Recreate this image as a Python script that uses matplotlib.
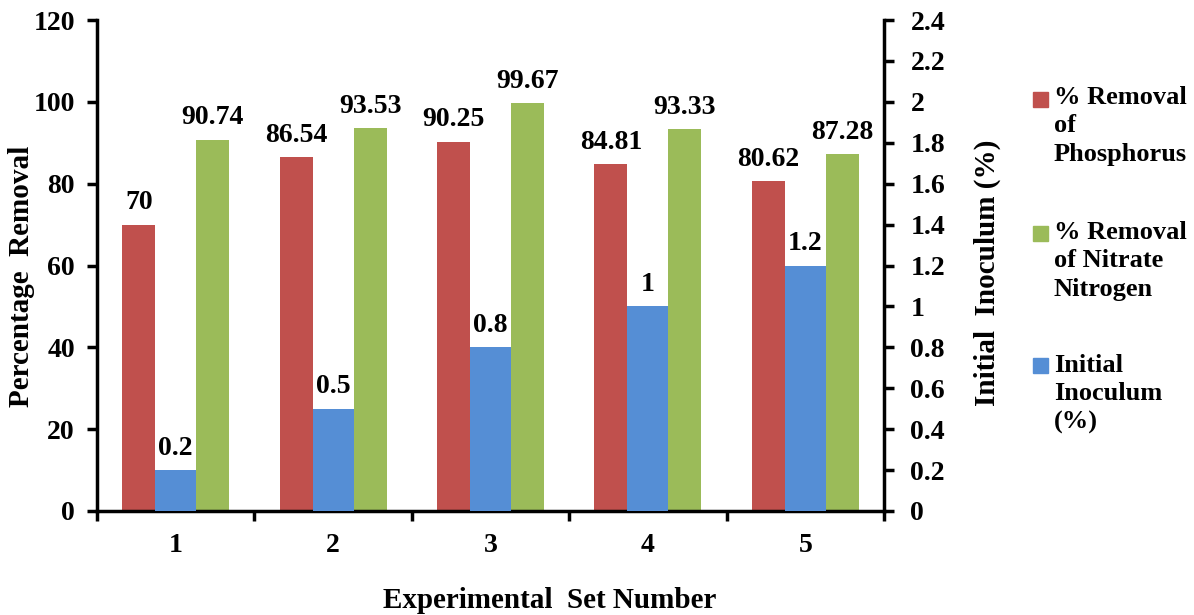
import matplotlib.pyplot as plt
import numpy as np
from matplotlib.patches import Rectangle
from matplotlib.ticker import FuncFormatter

sets = [1, 2, 3, 4, 5]
phosphorus = [70, 86.54, 90.25, 84.81, 80.62]
nitrate = [90.74, 93.53, 99.67, 93.33, 87.28]
inoculum = [0.2, 0.5, 0.8, 1, 1.2]
labels = ['% Removal\nof\nPhosphorus', '% Removal\nof Nitrate\nNitrogen', 'Initial\nInoculum\n(%)']

c_red = '#C0504D'
c_green = '#9BBB59'
c_blue = '#558ED5'

plt.rcParams['font.family'] = 'Liberation Serif'
plt.rcParams['font.weight'] = 'bold'
fs = 20
W, H = 1194, 615

fig = plt.figure(figsize=(W/100, H/100), dpi=100)
ax = fig.add_axes([97/W, 1 - 511/H, (884 - 97)/W, (511 - 20)/H])
ax2 = ax.twinx()

x = np.array(sets)
b1 = ax.bar(x - 0.235, phosphorus, 0.21, color=c_red)
b2 = ax.bar(x + 0.235, nitrate, 0.21, color=c_green)
b3 = ax2.bar(x, inoculum, 0.26, color=c_blue)

# value labels above bars
for bars, vals, a in [(b1, phosphorus, ax), (b2, nitrate, ax), (b3, inoculum, ax2)]:
    for r, v in zip(bars, vals):
        a.annotate('%g' % v, (r.get_x() + r.get_width()/2, v), xytext=(0, 11),
                   textcoords='offset points', ha='center', va='baseline',
                   fontsize=fs, fontweight='bold')

ax.set_xlim(0.5, 5.5)
ax.set_ylim(0, 120)
ax2.set_ylim(0, 2.4)
ax.set_yticks(np.arange(0, 121, 20))
ax2.set_yticks(np.arange(0, 2.41, 0.2))
ax2.yaxis.set_major_formatter(FuncFormatter(lambda v, p: '%g' % round(v, 1)))

ax.set_xticks(sets)
ax.set_xticklabels([str(s) for s in sets])
ax.set_xticks(np.arange(0.5, 5.6, 1), minor=True)
ax.tick_params(axis='x', which='major', length=0, pad=16, labelsize=fs)
ax.tick_params(axis='x', which='minor', length=7, width=2.5, direction='out')
ax.tick_params(axis='y', length=7, width=2.5, labelsize=fs, pad=9)
ax2.tick_params(axis='y', length=7, width=2.5, labelsize=fs, pad=12)

for a in (ax, ax2):
    a.spines['top'].set_visible(False)
    for s in ('left', 'right', 'bottom'):
        a.spines[s].set_linewidth(2.5)
ax.spines['right'].set_visible(False)
ax2.spines['left'].set_visible(False)
ax2.spines['bottom'].set_visible(False)

fig.text(22/W, 1 - 276/H, 'Percentage  Removal', rotation=90, ha='center', va='center',
         fontsize=21, fontweight='bold')
fig.text(987/W, 1 - 273/H, 'Initial  Inoculum (%)', rotation=90, ha='center', va='center',
         fontsize=21, fontweight='bold')
fig.text(550/W, 1 - 600/H, 'Experimental  Set Number', ha='center', va='center',
         fontsize=21, fontweight='bold')

# legend, swatch beside the first line of each entry
for col, lab, sq_top, txt_top in [(c_red, labels[0], 92, 86),
                                   (c_green, labels[1], 226, 221),
                                   (c_blue, labels[2], 358, 354)]:
    fig.add_artist(Rectangle((1033/W, 1 - (sq_top + 15)/H), 15/W, 15/H,
                             transform=fig.transFigure, color=col))
    fig.text(1054/W, 1 - txt_top/H, lab, ha='left', va='top', fontsize=19,
             fontweight='bold', linespacing=1.3)

fig.savefig('out.png', dpi=100)
